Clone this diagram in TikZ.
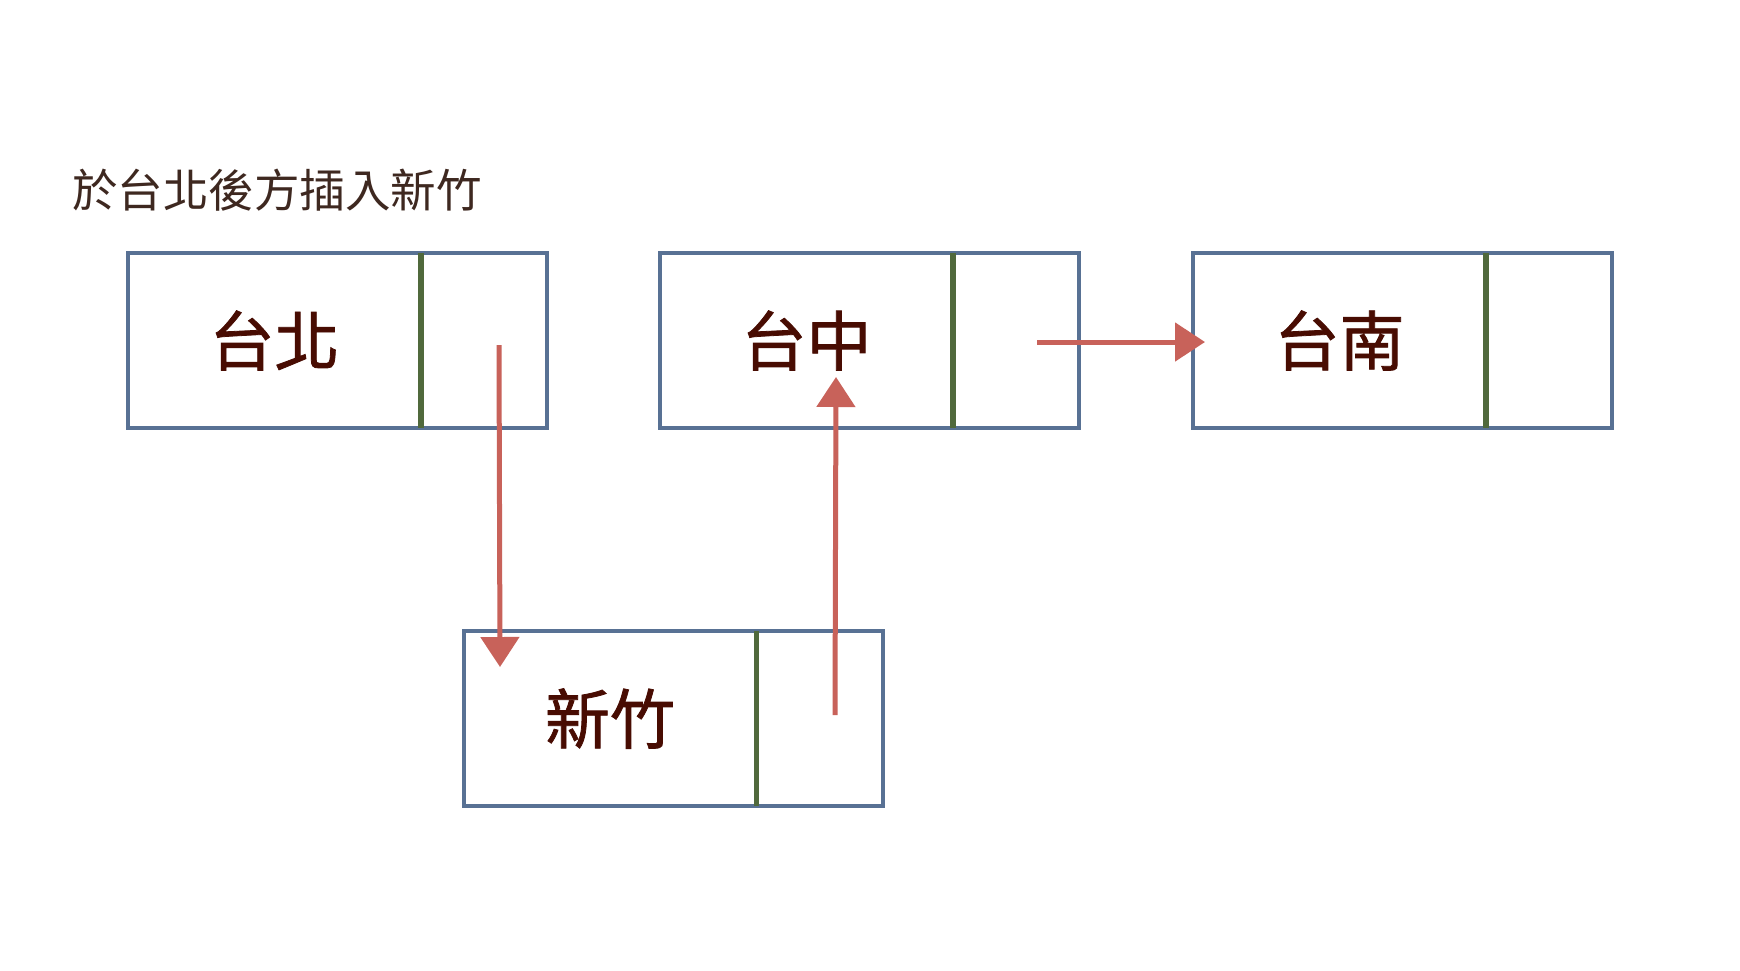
\documentclass[tikz,border=0pt]{standalone}
\usepackage{fontspec}
\newfontfamily\cjk{Noto Sans CJK TC}
\newfontfamily\cjkb[FakeBold=1.2]{Noto Sans CJK TC}
\usetikzlibrary{arrows.meta}
\definecolor{boxblue}{RGB}{88,113,148}
\definecolor{divgreen}{RGB}{80,105,60}
\definecolor{ptrred}{RGB}{200,98,90}
\definecolor{txtdark}{RGB}{72,12,2}
\definecolor{titlecol}{RGB}{62,40,32}
\tikzset{
  datacell/.style={draw=boxblue, line width=4pt, outer sep=0pt, minimum width=293pt, minimum height=175pt, inner sep=0pt, font=\cjkb\fontsize{65pt}{72pt}\selectfont, text=txtdark},
  ptrcell/.style={draw=boxblue, line width=4pt, outer sep=0pt, minimum width=126pt, minimum height=175pt, inner sep=0pt, anchor=west},
  divider/.style={draw=divgreen, line width=5.5pt},
  ptr/.style={draw=ptrred, line width=5pt, -{Triangle[length=30pt,width=38pt]}},
  titletext/.style={font=\cjk\fontsize{45.5pt}{52pt}\selectfont, text=titlecol, anchor=west, inner sep=0pt}
}
\begin{document}
\begin{tikzpicture}[x=1pt,y=-1pt]
\useasboundingbox (0,0) rectangle (1740,970);
\fill[white] (0,0) rectangle (1740,970);
\node[titletext] (title) at (72,190) {於台北後方插入新竹};
% boxes
\node[datacell] (tpd) at (274.5,340.5) {台北};
\node[ptrcell] (tpp) at (tpd.east) {};
\node[datacell] (tcd) at (806.5,340.5) {台中};
\node[ptrcell] (tcp) at (tcd.east) {};
\node[datacell] (tnd) at (1339.5,340.5) {台南};
\node[ptrcell] (tnp) at (tnd.east) {};
\node[datacell] (hcd) at (610,718.5) {新竹};
\node[ptrcell] (hcp) at (hcd.east) {};
% dividers
\draw[divider] (tpd.north east) -- (tpd.south east);
\draw[divider] (tcd.north east) -- (tcd.south east);
\draw[divider] (tnd.north east) -- (tnd.south east);
\draw[divider] (hcd.north east) -- (hcd.south east);
% pointer arrows
\coordinate (s1) at (499,345);
\coordinate (e1) at (500,667);
\coordinate (s2) at (835,715);
\coordinate (e2) at (836,377);
\coordinate (s3) at (1037,342);
\coordinate (e3) at (1205,342);
\draw[ptr] (s1) -- (e1);
\draw[ptr] (s2) -- (e2);
\draw[ptr] (s3) -- (e3);
\end{tikzpicture}
\end{document}
